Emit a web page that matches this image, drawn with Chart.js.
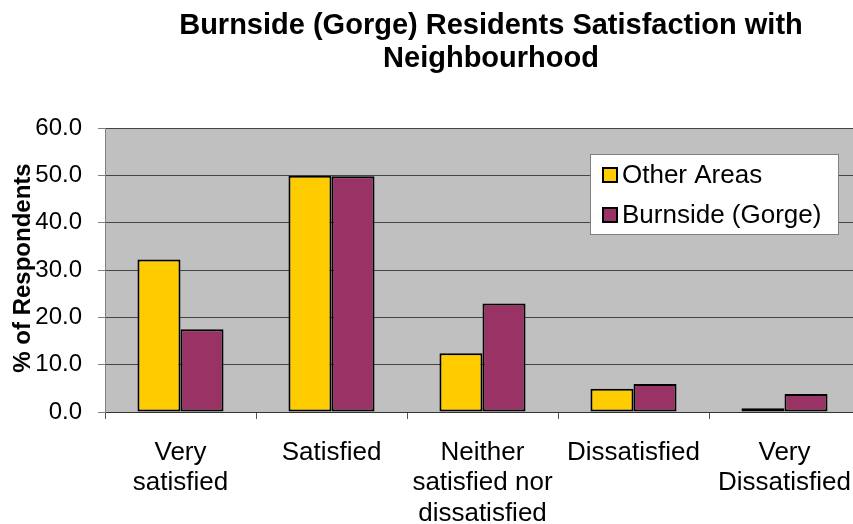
<!DOCTYPE html>
<html>
<head>
<meta charset="utf-8">
<script src="https://cdn.jsdelivr.net/npm/chart.js@4/dist/chart.umd.min.js"></script>
<style>
  html, body { margin: 0; padding: 0; background: #fff; overflow: hidden; }
  #wrap { width: 980px; height: 524px; }
</style>
</head>
<body>
<div id="wrap"><canvas id="chart"></canvas></div>
<script>
const categories = [
    ['Very', 'satisfied'],
    'Satisfied',
    ['Neither', 'satisfied nor', 'dissatisfied'],
    'Dissatisfied',
    ['Very', 'Dissatisfied']
];
const seriesNames = ['Other Areas', 'Burnside (Gorge)'];
const otherAreas = [32.2, 49.9, 12.4, 4.9, 0.8];
const burnside = [17.5, 49.8, 22.9, 5.9, 3.8];
const yTicks = [0, 10, 20, 30, 40, 50, 60];
const titleLines = ['Burnside (Gorge) Residents Satisfaction with', 'Neighbourhood'];
const yTitle = '% of Respondents';

const FONT = "'Liberation Sans', Arial, sans-serif";

// grey plot background
const plotBg = {
    id: 'plotBg',
    beforeDraw(chart) {
        const { ctx, chartArea: a } = chart;
        ctx.save();
        ctx.fillStyle = '#c0c0c0';
        ctx.fillRect(a.left, a.top, a.right - a.left, a.bottom - a.top);
        ctx.restore();
    }
};

// title + rotated y title + boxed legend inside the plot
const extras = {
    id: 'extras',
    afterDraw(chart) {
        const ctx = chart.ctx;
        ctx.save();
        ctx.fillStyle = '#000';
        ctx.textAlign = 'center';
        ctx.textBaseline = 'middle';
        ctx.font = 'bold 29px ' + FONT;
        titleLines.forEach((t, i) => ctx.fillText(t, 491, 26 + i * 33));

        ctx.save();
        ctx.translate(23, 268);
        ctx.rotate(-Math.PI / 2);
        ctx.font = 'bold 24px ' + FONT;
        ctx.fillText(yTitle, 0, 0);
        ctx.restore();

        // legend
        ctx.fillStyle = '#fff';
        ctx.fillRect(590, 154, 248, 80);
        ctx.strokeStyle = '#808080';
        ctx.lineWidth = 1;
        ctx.strokeRect(590.5, 154.5, 248, 80);
        ctx.font = '26px ' + FONT;
        ctx.textAlign = 'left';
        chart.data.datasets.forEach((ds, i) => {
            const y = 175 + i * 40;
            ctx.fillStyle = ds.backgroundColor;
            ctx.fillRect(603, y - 7, 14, 14);
            ctx.strokeStyle = '#000';
            ctx.lineWidth = 2;
            ctx.strokeRect(603, y - 7, 14, 14);
            ctx.fillStyle = '#000';
            ctx.fillText(ds.label, 622, y + 1);
        });
        ctx.restore();
    }
};

new Chart(document.getElementById('chart'), {
    type: 'bar',
    data: {
        labels: categories,
        datasets: [{
            label: seriesNames[0],
            data: otherAreas,
            backgroundColor: '#ffcc00',
            borderColor: '#000',
            borderWidth: 2,
            borderSkipped: false
        }, {
            label: seriesNames[1],
            data: burnside,
            backgroundColor: '#993366',
            borderColor: '#000',
            borderWidth: 2,
            borderSkipped: false
        }]
    },
    options: {
        responsive: true,
        maintainAspectRatio: false,
        animation: false,
        layout: { padding: { top: 128, right: 120, bottom: 0, left: 0 } },
        datasets: { bar: { categoryPercentage: 0.57, barPercentage: 1.0 } },
        plugins: {
            legend: { display: false },
            title: { display: false },
            tooltip: { enabled: false }
        },
        scales: {
            x: {
                afterFit: s => { s.height = 112; },
                grid: { drawOnChartArea: false, offset: true, tickLength: 7, color: '#555' },
                border: { color: '#333', width: 1 },
                ticks: {
                    color: '#000', padding: 19, maxRotation: 0, autoSkip: false,
                    font: { family: FONT, size: 26, lineHeight: 1.16 }
                }
            },
            y: {
                min: 0,
                max: 60,
                afterFit: s => { s.width = 105; },
                afterBuildTicks: s => { s.ticks = yTicks.map(v => ({ value: v })); },
                grid: { color: '#444', tickLength: 7, tickColor: '#808080' },
                border: { color: '#808080', width: 1 },
                ticks: {
                    color: '#000', padding: 16,
                    font: { family: FONT, size: 24 },
                    callback: v => v.toFixed(1)
                }
            }
        }
    },
    plugins: [plotBg, extras]
});
</script>
</body>
</html>
